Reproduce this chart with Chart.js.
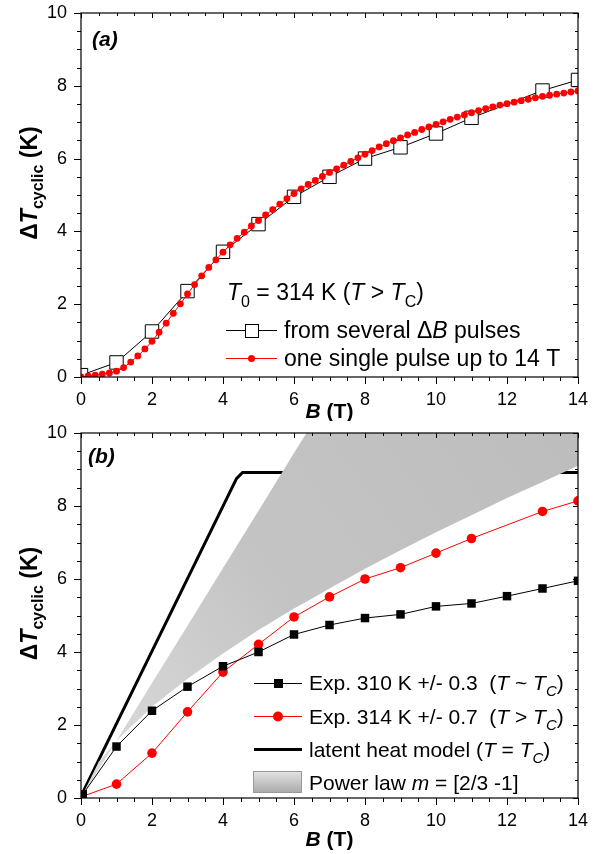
<!DOCTYPE html>
<html>
<head>
<meta charset="utf-8">
<script src="https://cdn.jsdelivr.net/npm/chart.js@4.4.1/dist/chart.umd.min.js"></script>
<style>
    body { margin: 0; background: #fff; width: 604px; height: 854px; overflow: hidden; position: relative; }
    .painel { position: absolute; left: 0; width: 604px; }
    #painel-a { top: 0; height: 421px; }
    #painel-b { top: 421px; height: 433px; }
</style>
</head>
<body>
<div class="painel" id="painel-a"><canvas id="grafico-a"></canvas></div>
<div class="painel" id="painel-b"><canvas id="grafico-b"></canvas></div>
<script>
// Painel (a): vários pulsos de ΔB
const bPulsos = [0, 1, 2, 3, 4, 5, 6, 7, 8, 9, 10, 11, 13, 14];
const dtPulsos = [0.05, 0.4, 1.25, 2.36, 3.44, 4.2, 4.95, 5.5, 6.0, 6.31, 6.69, 7.12, 7.87, 8.16];

// Painel (a): um único pulso até 14 T
const bUnico = [0, 0.2, 0.4, 0.6, 0.8, 1, 1.2, 1.4, 1.6, 1.8, 2, 2.2, 2.4, 2.6, 2.8, 3, 3.2, 3.4, 3.6, 3.8,
    4, 4.2, 4.4, 4.6, 4.8, 5, 5.2, 5.4, 5.6, 5.8, 6, 6.2, 6.4, 6.6, 6.8, 7, 7.2, 7.4, 7.6, 7.8,
    8, 8.2, 8.4, 8.6, 8.8, 9, 9.2, 9.4, 9.6, 9.8, 10, 10.2, 10.4, 10.6, 10.8, 11, 11.2, 11.4, 11.6, 11.8,
    12, 12.2, 12.4, 12.6, 12.8, 13, 13.2, 13.4, 13.6, 13.8, 14];
const dtUnico = [0, 0.03, 0.05, 0.08, 0.11, 0.16, 0.26, 0.41, 0.58, 0.77, 0.98, 1.23, 1.48, 1.75, 2.01, 2.28, 2.54, 2.78, 3.01, 3.22,
    3.43, 3.63, 3.81, 3.98, 4.15, 4.3, 4.45, 4.6, 4.75, 4.9, 5.04, 5.17, 5.29, 5.4, 5.51, 5.62, 5.72, 5.82, 5.92, 6.02,
    6.12, 6.22, 6.32, 6.41, 6.49, 6.57, 6.65, 6.72, 6.8, 6.87, 6.94, 7.01, 7.08, 7.14, 7.2, 7.26, 7.32, 7.37, 7.42, 7.47,
    7.51, 7.55, 7.59, 7.63, 7.67, 7.71, 7.74, 7.77, 7.8, 7.83, 7.86];

// Painel (b): experimentos
const b310 = [0.05, 1, 2, 3, 4, 5, 6, 7, 8, 9, 10, 11, 12, 13, 14];
const dt310 = [0.1, 1.41, 2.39, 3.05, 3.61, 4.0, 4.48, 4.74, 4.93, 5.03, 5.25, 5.33, 5.53, 5.74, 5.95];
const b314 = [0, 1, 2, 3, 4, 5, 6, 7, 8, 9, 10, 11, 13, 14];
const dt314 = [0.03, 0.38, 1.23, 2.36, 3.45, 4.21, 4.96, 5.51, 6.0, 6.31, 6.71, 7.11, 7.85, 8.14];

// Painel (b): modelo de calor latente
const bLatente = [0, 4.38, 4.55, 14];
const dtLatente = [0.05, 8.75, 8.92, 8.92];

// Painel (b): faixa da lei de potência (bordas superior e inferior)
const bFaixa = [0, 0.5, 1, 2, 3, 4, 5, 6, 6.35, 7, 8, 9, 10, 11, 12, 13, 14];
const dtFaixaSup = [0, 0.79, 1.57, 3.15, 4.72, 6.3, 7.87, 9.45, 10, 10, 10, 10, 10, 10, 10, 10, 10];
const dtFaixaInf = [0, 0.99, 1.57, 2.5, 3.27, 3.96, 4.6, 5.19, 5.38, 5.74, 6.28, 6.79, 7.28, 7.75, 8.22, 8.66, 9.1];

const FONTE = '"Liberation Sans", Arial, sans-serif';

function pontos(xs, ys) {
    return xs.map((x, i) => ({ x: x, y: ys[i] }));
}

// Escreve um texto com partes em fontes diferentes: [texto, fonte, deslocamento vertical]
function textoRico(ctx, partes, x, y, centralizar) {
    let largura = 0;
    partes.forEach(p => { ctx.font = p[1]; largura += ctx.measureText(p[0]).width; });
    let cx = centralizar ? x - largura / 2 : x;
    partes.forEach(p => {
        ctx.font = p[1];
        ctx.fillText(p[0], cx, y + (p[2] || 0));
        cx += ctx.measureText(p[0]).width;
    });
}

function gradienteFaixa(context) {
    const chart = context.chart;
    const area = chart.chartArea;
    if (!area) return '#c4c4c4';
    const g = chart.ctx.createLinearGradient(area.left, area.bottom, area.right, area.top);
    g.addColorStop(0, '#dedede');
    g.addColorStop(0.45, '#c4c4c4');
    g.addColorStop(1, '#bdbdbd');
    return g;
}

// Moldura, marcas dos eixos e títulos
const pluginMoldura = {
    id: 'moldura',
    afterDraw(chart, args, opts) {
        const { ctx, chartArea: a, scales: { x, y } } = chart;
        ctx.save();
        ctx.strokeStyle = '#000';
        ctx.lineWidth = 1.2;
        ctx.strokeRect(a.left, a.top, a.right - a.left, a.bottom - a.top);

        ctx.lineWidth = 1;
        ctx.beginPath();
        for (let v = 0; v <= 14; v += 0.5) {
            const px = Math.round(x.getPixelForValue(v)) + 0.5;
            const maior = v % 2 === 0;
            ctx.moveTo(px, a.bottom);
            ctx.lineTo(px, a.bottom + (maior ? 7 : 4));
            ctx.moveTo(px, a.top);
            ctx.lineTo(px, a.top + (maior ? 5 : 3));
        }
        for (let v = 0; v <= 10; v += 0.5) {
            const py = Math.round(y.getPixelForValue(v)) + 0.5;
            const maior = v % 2 === 0;
            ctx.moveTo(a.left, py);
            ctx.lineTo(a.left - (maior ? 7 : 4), py);
            ctx.moveTo(a.right, py);
            ctx.lineTo(a.right - (maior ? 5 : 3), py);
        }
        ctx.stroke();

        ctx.fillStyle = '#000';
        ctx.textBaseline = 'alphabetic';

        // título do eixo x
        textoRico(ctx, [
            ['B', 'bold italic 21px ' + FONTE],
            [' (T)', 'bold 21px ' + FONTE]
        ], (a.left + a.right) / 2, opts.tituloX, true);

        // título do eixo y
        ctx.save();
        ctx.translate(37, (a.top + a.bottom) / 2 - 12);
        ctx.rotate(-Math.PI / 2);
        textoRico(ctx, [
            ['\u0394', 'bold 23px ' + FONTE],
            ['T', 'bold italic 23px ' + FONTE],
            ['cyclic', 'bold 16px ' + FONTE, 6],
            [' (K)', 'bold 23px ' + FONTE]
        ], 0, 0, true);
        ctx.restore();

        // rótulo do painel
        ctx.font = 'bold italic 21px ' + FONTE;
        ctx.fillText(opts.rotulo, opts.rotuloX, opts.rotuloY);

        if (opts.legenda) opts.legenda(ctx);
        ctx.restore();
    }
};

function amostraLinha(ctx, x1, x2, y, cor, largura) {
    ctx.strokeStyle = cor;
    ctx.lineWidth = largura;
    ctx.beginPath();
    ctx.moveTo(x1, y);
    ctx.lineTo(x2, y);
    ctx.stroke();
}

function legendaA(ctx) {
    const n = '23px ' + FONTE, it = 'italic 23px ' + FONTE, sub = '16px ' + FONTE;
    ctx.fillStyle = '#000';
    textoRico(ctx, [['T', it], ['0', sub, 7], [' = 314 K (', n], ['T', it], [' > ', n], ['T', it], ['C', sub, 7], [')', n]], 227, 300);

    amostraLinha(ctx, 226, 277, 330.5, '#000', 1);
    ctx.fillStyle = '#fff';
    ctx.fillRect(245, 324, 13, 13);
    ctx.strokeStyle = '#000';
    ctx.strokeRect(245.5, 324.5, 13, 13);
    ctx.fillStyle = '#000';
    textoRico(ctx, [['from several ', n], ['\u0394', n], ['B', it], [' pulses', n]], 284, 338);

    amostraLinha(ctx, 226, 277, 358.5, '#ff0000', 1);
    ctx.fillStyle = '#ff0000';
    ctx.beginPath();
    ctx.arc(251.5, 358.5, 3.5, 0, Math.PI * 2);
    ctx.fill();
    ctx.fillStyle = '#000';
    textoRico(ctx, [['one single pulse up to 14 T', n]], 284, 366);
}

function legendaB(ctx) {
    const n = '21px ' + FONTE, it = 'italic 21px ' + FONTE, sub = 'italic 15px ' + FONTE;

    amostraLinha(ctx, 254, 302, 262.5, '#000', 1);
    ctx.fillStyle = '#000';
    ctx.fillRect(274, 258, 9, 9);
    textoRico(ctx, [['Exp. 310 K +/- 0.3  (', n], ['T', it], [' ~ ', n], ['T', it], ['C', sub, 6], [')', n]], 309, 269);

    amostraLinha(ctx, 254, 302, 295.5, '#ff0000', 1);
    ctx.fillStyle = '#ff0000';
    ctx.beginPath();
    ctx.arc(278, 295.5, 5, 0, Math.PI * 2);
    ctx.fill();
    ctx.fillStyle = '#000';
    textoRico(ctx, [['Exp. 314 K +/- 0.7  (', n], ['T', it], [' > ', n], ['T', it], ['C', sub, 6], [')', n]], 309, 303);

    amostraLinha(ctx, 254, 302, 328.5, '#000', 3);
    textoRico(ctx, [['latent heat model (', n], ['T', it], [' = ', n], ['T', it], ['C', sub, 6], [')', n]], 309, 336);

    const g = ctx.createLinearGradient(0, 350, 0, 372);
    g.addColorStop(0, '#e4e4e4');
    g.addColorStop(1, '#a9a9a9');
    ctx.fillStyle = g;
    ctx.fillRect(253, 350, 49, 22);
    ctx.strokeStyle = '#999';
    ctx.lineWidth = 1;
    ctx.strokeRect(253.5, 350.5, 48, 21);
    ctx.fillStyle = '#000';
    textoRico(ctx, [['Power law ', n], ['m', it], [' = [2/3 -1]', n]], 309, 369);
}

function escalas(alturaX) {
    return {
        x: {
            type: 'linear', min: 0, max: 14,
            grid: { display: false, drawTicks: false },
            border: { display: false },
            ticks: { stepSize: 2, padding: 12, color: '#000', font: { family: FONTE, size: 18 } },
            afterFit: (s) => { s.height = alturaX; s.paddingLeft = 0; s.paddingRight = 0; }
        },
        y: {
            type: 'linear', min: 0, max: 10,
            grid: { display: false, drawTicks: false },
            border: { display: false },
            ticks: { stepSize: 2, padding: 14, color: '#000', font: { family: FONTE, size: 18 } },
            afterFit: (s) => { s.width = 81; s.paddingTop = 0; s.paddingBottom = 0; }
        }
    };
}

function opcoesBase(topo, alturaX, moldura) {
    return {
        responsive: true,
        maintainAspectRatio: false,
        animation: false,
        events: [],
        layout: { padding: { top: topo, right: 26, left: 0, bottom: 0 } },
        scales: escalas(alturaX),
        plugins: {
            legend: { display: false },
            tooltip: { enabled: false },
            moldura: moldura
        }
    };
}

// Gráfico (a)
new Chart(document.getElementById('grafico-a'), {
    type: 'scatter',
    data: {
        datasets: [
            {
                label: 'one single pulse up to 14 T',
                data: pontos(bUnico, dtUnico),
                showLine: true,
                borderColor: '#ff0000',
                borderWidth: 1,
                pointRadius: 3.4,
                pointBackgroundColor: '#ff0000',
                pointBorderWidth: 0,
                clip: 0
            },
            {
                label: 'from several ΔB pulses',
                data: pontos(bPulsos, dtPulsos),
                showLine: true,
                borderColor: '#000',
                borderWidth: 1,
                pointStyle: 'rect',
                pointRadius: 9.5,
                pointBackgroundColor: '#fff',
                pointBorderColor: '#000',
                pointBorderWidth: 1,
                clip: 0
            }
        ]
    },
    options: opcoesBase(13, 44, { tituloX: 418, rotulo: '(a)', rotuloX: 92, rotuloY: 46, legenda: legendaA }),
    plugins: [pluginMoldura]
});

// Gráfico (b)
new Chart(document.getElementById('grafico-b'), {
    type: 'scatter',
    data: {
        datasets: [
            {
                label: 'Exp. 310 K',
                data: pontos(b310, dt310),
                showLine: true,
                borderColor: '#000',
                borderWidth: 1,
                pointStyle: 'rect',
                pointRadius: 6,
                pointBackgroundColor: '#000',
                pointBorderWidth: 0,
                clip: 0
            },
            {
                label: 'Exp. 314 K',
                data: pontos(b314, dt314),
                showLine: true,
                borderColor: '#ff0000',
                borderWidth: 1,
                pointRadius: 4.8,
                pointBackgroundColor: '#ff0000',
                pointBorderWidth: 0,
                clip: 0
            },
            {
                label: 'Power law',
                data: pontos(bFaixa, dtFaixaSup),
                showLine: true,
                borderWidth: 0,
                borderColor: 'rgba(0,0,0,0)',
                pointRadius: 0,
                fill: '+1',
                backgroundColor: gradienteFaixa,
                clip: 0
            },
            {
                label: 'Power law inf',
                data: pontos(bFaixa, dtFaixaInf),
                showLine: true,
                borderWidth: 0,
                borderColor: 'rgba(0,0,0,0)',
                pointRadius: 0,
                clip: 0
            },
            {
                label: 'latent heat model',
                data: pontos(bLatente, dtLatente),
                showLine: true,
                borderColor: '#000',
                borderWidth: 3,
                pointRadius: 0,
                clip: 0
            }
        ]
    },
    options: opcoesBase(12, 56, { tituloX: 425, rotulo: '(b)', rotuloX: 88, rotuloY: 42, legenda: legendaB }),
    plugins: [pluginMoldura]
});
</script>
</body>
</html>
